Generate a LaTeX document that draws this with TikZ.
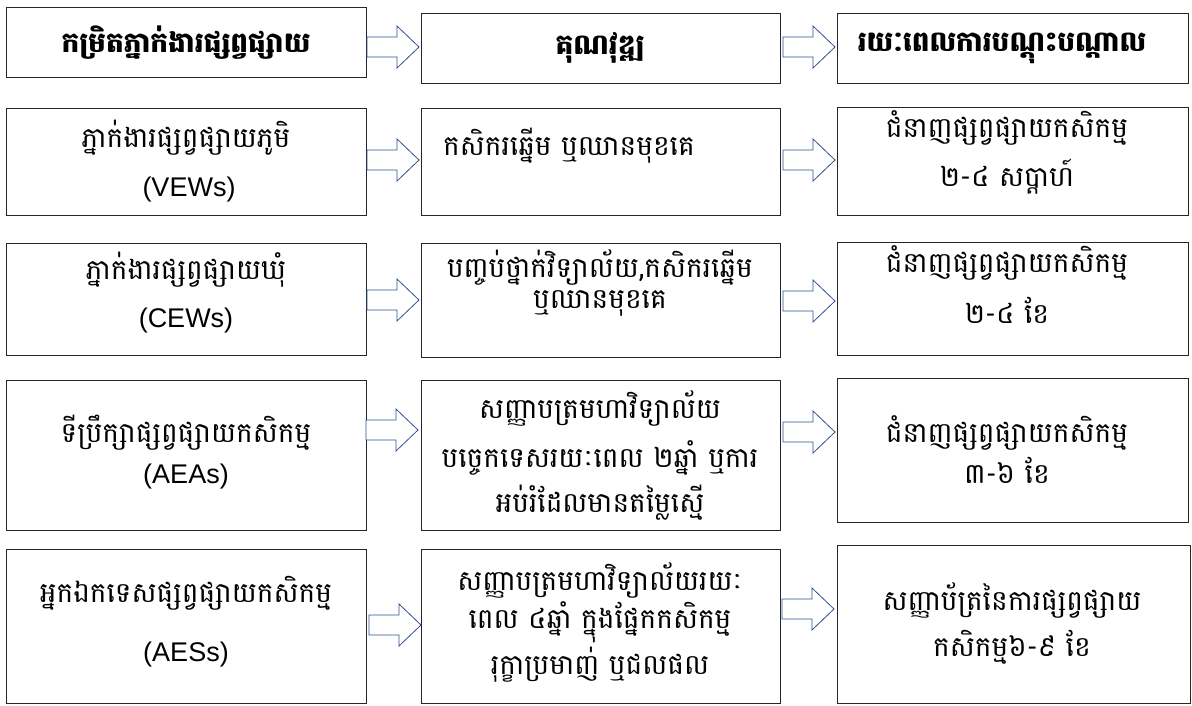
\documentclass[tikz,border=0pt]{standalone}
\usepackage{fontspec}
\setmainfont{Liberation Sans}
\newfontfamily\khmer[Script=Khmer]{Battambang}
\usetikzlibrary{fit}
\definecolor{arrowblue}{RGB}{47,82,143}
\tikzset{
  box/.style={draw=black!85, line width=1pt, inner sep=0pt},
  barr/.style={draw=arrowblue, fill=white, line width=0.8pt, line join=miter},
  kt/.style={font=\khmer\fontsize{28}{31}\selectfont, inner sep=0pt},
  kh/.style={font=\khmer\bfseries\fontsize{28}{32}\selectfont, inner sep=0pt},
  lt/.style={font=\fontsize{27}{30}\selectfont, inner sep=0pt},
}
\newcommand\bx[5]{\node[box, fit={(#2,#3) (#4,#5)}] (#1) {};}
\newcommand\barrow[3]{%
  \coordinate (#1) at (#2,#3);
  \draw[barr] (#1) ++(0,-10) -- ++(30,0) -- ++(0,-11) -- ++(22,21) -- ++(-22,21) -- ++(0,-11) -- ++(-30,0) -- cycle;}
\begin{document}
\begin{tikzpicture}[x=1pt,y=-1pt]
\useasboundingbox (0,0) rectangle (1192,705);
% boxes
\bx{H1}{6}{7}{366}{77}
\bx{H2}{421}{13}{780}{83}
\bx{H3}{837}{13}{1188}{83}
\bx{A1}{6}{108}{366}{215}
\bx{B1}{421}{108}{780}{215}
\bx{C1}{837}{107}{1188}{215}
\bx{A2}{6}{243}{366}{355}
\bx{B2}{421}{243}{780}{357}
\bx{C2}{837}{242}{1188}{355}
\bx{A3}{6}{380}{366}{530}
\bx{B3}{421}{380}{780}{530}
\bx{C3}{837}{378}{1188}{522}
\bx{A4}{6}{549}{366}{703}
\bx{B4}{421}{549}{780}{703}
\bx{C4}{837}{545}{1190}{703}
% arrows
\barrow{hA}{367}{47}
\barrow{hB}{783}{47}
\barrow{r1A}{367}{160}
\barrow{r1B}{783}{160}
\barrow{r2A}{367}{300}
\barrow{r2B}{783}{301}
\barrow{r3A}{366}{430}
\barrow{r3B}{783}{432}
\barrow{r4A}{369}{625}
\barrow{r4B}{782}{609}
% header texts
\node[kh] (h1t) at (186,43) {កម្រិតភ្នាក់ងារផ្សព្វផ្សាយ};
\node[kh] (h2t) at (600,48) {គុណវុឌ្ឍ};
\node[kh] (h3t) at (1002,48) {រយៈពេលការបណ្ដុះបណ្ដាល};
% row 1
\node[kt] (a1t) at (186,138) {ភ្នាក់ងារផ្សព្វផ្សាយភូមិ};
\node[lt] (a1l) at (189,190) {(VEWs)};
\node[kt, anchor=west] (b1t) at (443,146) {កសិករឆ្នើម ឬឈានមុខគេ};
\node[kt] (c1t) at (1007,128) {ជំនាញផ្សព្វផ្សាយកសិកម្ម};
\node[kt] (c1u) at (1007,177) {២-៤ សប្ដាហ៍};
% row 2
\node[kt] (a2t) at (186,270) {ភ្នាក់ងារផ្សព្វផ្សាយឃុំ};
\node[lt] (a2l) at (186,321) {(CEWs)};
\node[kt] (b2t) at (600,267) {បញ្ចប់ថ្នាក់វិទ្យាល័យ,កសិករឆ្នើម};
\node[kt] (b2u) at (600,303) {ឬឈានមុខគេ};
\node[kt] (c2t) at (1007,263) {ជំនាញផ្សព្វផ្សាយកសិកម្ម};
\node[kt] (c2u) at (1007,310) {២-៤ ខែ};
% row 3
\node[kt] (a3t) at (186,433) {ទីប្រឹក្សាផ្សព្វផ្សាយកសិកម្ម};
\node[lt] (a3l) at (186,477) {(AEAs)};
\node[kt] (b3t) at (600,408) {សញ្ញាបត្រមហាវិទ្យាល័យ};
\node[kt] (b3u) at (600,458) {បច្ចេកទេសរយៈពេល ២ឆ្នាំ ឬការ};
\node[kt] (b3v) at (600,503) {អប់រំដែលមានតម្លៃស្មើ};
\node[kt] (c3t) at (1007,433) {ជំនាញផ្សព្វផ្សាយកសិកម្ម};
\node[kt] (c3u) at (1007,470) {៣-៦ ខែ};
% row 4
\node[kt] (a4t) at (186,593) {អ្នកឯកទេសផ្សព្វផ្សាយកសិកម្ម};
\node[lt] (a4l) at (186,655) {(AESs)};
\node[kt] (b4t) at (600,580) {សញ្ញាបត្រមហាវិទ្យាល័យរយៈ};
\node[kt] (b4u) at (600,622) {ពេល ៤ឆ្នាំ ក្នុងផ្នែកកសិកម្ម};
\node[kt] (b4v) at (600,665) {រុក្ខាប្រមាញ់ ឬជលផល};
\node[kt] (c4t) at (1012,600) {សញ្ញាប័ត្រនៃការផ្សព្វផ្សាយ};
\node[kt] (c4u) at (1012,647) {កសិកម្ម៦-៩ ខែ};
\end{tikzpicture}
\end{document}
